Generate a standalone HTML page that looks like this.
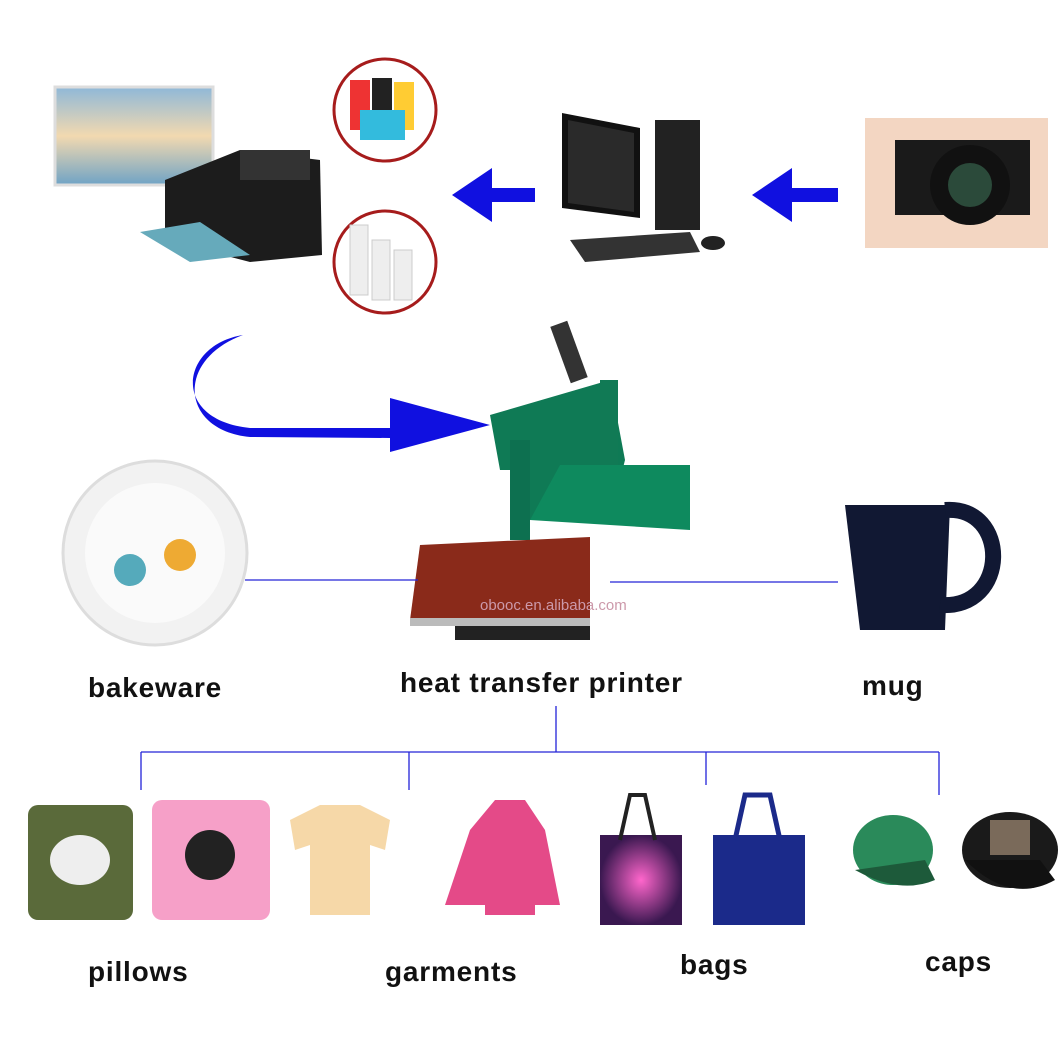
<!DOCTYPE html>
<html><head><meta charset="utf-8"><style>
html,body{margin:0;padding:0;background:#fff;width:1060px;height:1060px;overflow:hidden}
svg{display:block}
text{font-family:"Liberation Sans",sans-serif;font-weight:bold;fill:#111;font-size:28px;letter-spacing:0.8px}
</style></head><body>
<svg width="1060" height="1060" viewBox="0 0 1060 1060" xmlns="http://www.w3.org/2000/svg">
<defs>
<linearGradient id="sky" x1="0" y1="0" x2="0" y2="1"><stop offset="0" stop-color="#8fb8d8"/><stop offset="0.5" stop-color="#f2d9b0"/><stop offset="1" stop-color="#6fa3c5"/></linearGradient>
<radialGradient id="galaxy"><stop offset="0" stop-color="#f6c"/><stop offset="1" stop-color="#3a1850"/></radialGradient>
</defs>
<rect x="55" y="87" width="158" height="98" fill="url(#sky)" stroke="#ddd" stroke-width="3"/>
<polygon points="165,180 240,150 320,160 322,255 250,262 165,240" fill="#1c1c1c"/>
<rect x="240" y="150" width="70" height="30" fill="#333"/>
<polygon points="140,232 200,222 250,255 190,262" fill="#6ab" />
<circle cx="385" cy="110" r="51" fill="#fff" stroke="#a61c1c" stroke-width="3"/>
<rect x="350" y="80" width="20" height="50" fill="#e33"/><rect x="372" y="78" width="20" height="52" fill="#222"/><rect x="394" y="82" width="20" height="48" fill="#fc3"/><rect x="360" y="110" width="45" height="30" fill="#3bd"/>
<circle cx="385" cy="262" r="51" fill="#fff" stroke="#a61c1c" stroke-width="3"/>
<rect x="350" y="225" width="18" height="70" fill="#eee" stroke="#ccc"/><rect x="372" y="240" width="18" height="60" fill="#eee" stroke="#ccc"/><rect x="394" y="250" width="18" height="50" fill="#eee" stroke="#ccc"/>
<polygon points="452,195 492,168 492,188 535,188 535,202 492,202 492,222" fill="#1010e0"/>
<polygon points="562,113 640,128 640,218 562,208" fill="#111"/>
<polygon points="568,120 634,133 634,212 568,203" fill="#2a2a2a"/>
<rect x="655" y="120" width="45" height="110" fill="#222"/>
<polygon points="570,240 690,232 700,252 585,262" fill="#333"/>
<ellipse cx="713" cy="243" rx="12" ry="7" fill="#222"/>
<polygon points="752,195 792,168 792,188 838,188 838,202 792,202 792,222" fill="#1010e0"/>
<rect x="865" y="118" width="183" height="130" fill="#f3d6c2"/>
<rect x="895" y="140" width="135" height="75" fill="#1a1a1a"/>
<circle cx="970" cy="185" r="40" fill="#111"/><circle cx="970" cy="185" r="22" fill="#2b4a3a"/>
<path d="M243,335 C180,345 170,420 250,428 L390,428 L390,398 L490,425 L390,452 L390,438 L250,437 C180,430 175,360 243,335 Z" fill="#1010e0"/>
<rect x="560" y="322" width="18" height="60" fill="#333" transform="rotate(-20 569 352)"/>
<polygon points="490,415 610,380 625,460 610,520 530,520 530,470 500,470" fill="#0f7a55"/>
<rect x="600" y="380" width="18" height="100" fill="#117a55"/>
<polygon points="530,520 560,465 690,465 690,530" fill="#0e8a5e"/>
<rect x="510" y="440" width="20" height="100" fill="#0d7050"/>
<polygon points="420,545 590,537 590,625 410,620" fill="#8a2a1a"/>
<rect x="410" y="618" width="180" height="8" fill="#bbb"/>
<rect x="455" y="626" width="135" height="14" fill="#222"/>
<text x="480" y="610" style="font-size:15px;font-weight:normal;fill:#c9a;letter-spacing:0">obooc.en.alibaba.com</text>
<circle cx="155" cy="553" r="92" fill="#f2f2f2" stroke="#ddd" stroke-width="3"/>
<circle cx="155" cy="553" r="70" fill="#fafafa"/>
<circle cx="130" cy="570" r="16" fill="#5ab"/><circle cx="180" cy="555" r="16" fill="#ea3"/>
<path d="M845,505 L950,505 L945,630 L860,630 Z" fill="#111833"/>
<path d="M945,510 C1010,505 1010,610 940,605" fill="none" stroke="#111833" stroke-width="16"/>
<g stroke="#2424d8" stroke-width="1.3" fill="none">
<line x1="245" y1="580" x2="418" y2="580"/>
<line x1="610" y1="582" x2="838" y2="582"/>
<line x1="556" y1="706" x2="556" y2="752"/>
<line x1="141" y1="752" x2="939" y2="752"/>
<line x1="141" y1="752" x2="141" y2="790"/>
<line x1="409" y1="752" x2="409" y2="790"/>
<line x1="706" y1="752" x2="706" y2="785"/>
<line x1="939" y1="752" x2="939" y2="795"/>
</g>
<text x="88" y="697">bakeware</text>
<text x="400" y="692">heat transfer printer</text>
<text x="862" y="695">mug</text>
<text x="88" y="981">pillows</text>
<text x="385" y="981">garments</text>
<text x="680" y="974">bags</text>
<text x="925" y="971">caps</text>
<rect x="28" y="805" width="105" height="115" rx="10" fill="#5a6a3a"/>
<ellipse cx="80" cy="860" rx="30" ry="25" fill="#eee"/>
<rect x="152" y="800" width="118" height="120" rx="10" fill="#f6a0c8"/>
<circle cx="210" cy="855" r="25" fill="#222"/>
<polygon points="290,820 320,805 360,805 390,820 385,850 370,845 370,915 310,915 310,845 295,850" fill="#f6d8a8"/>
<polygon points="470,830 495,800 525,800 545,830 560,905 535,905 535,915 485,915 485,905 445,905" fill="#e44a88"/>
<rect x="600" y="835" width="82" height="90" fill="url(#galaxy)"/>
<path d="M620,840 L630,795 L645,795 L655,840" fill="none" stroke="#222" stroke-width="4"/>
<rect x="713" y="835" width="92" height="90" fill="#1b2a8a"/>
<path d="M735,840 L745,795 L770,795 L780,840" fill="none" stroke="#1b2a8a" stroke-width="5"/>
<ellipse cx="893" cy="850" rx="40" ry="35" fill="#2a8a5a"/>
<path d="M855,870 Q900,895 935,880 L925,860 Z" fill="#1d5a3a"/>
<ellipse cx="1010" cy="850" rx="48" ry="38" fill="#1a1a1a"/>
<path d="M965,860 Q1010,905 1055,880 L1040,860 Z" fill="#111"/>
<rect x="990" y="820" width="40" height="35" fill="#7a6a5a"/>
</svg>
</body></html>
